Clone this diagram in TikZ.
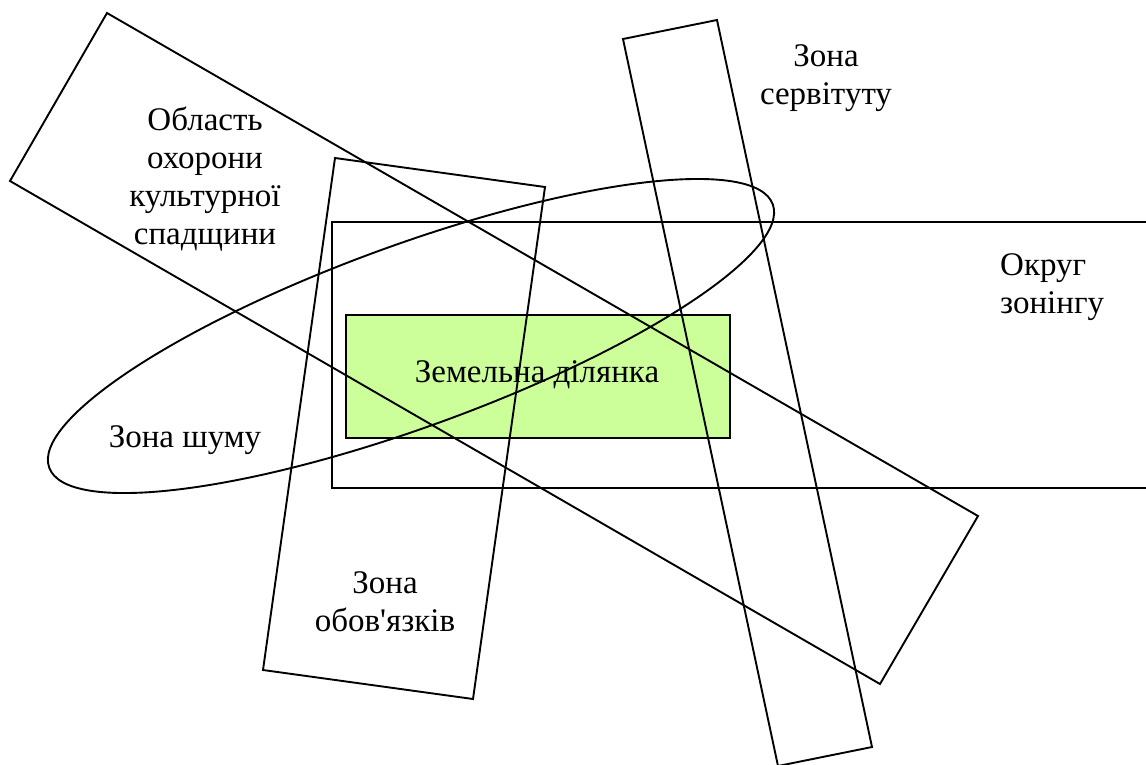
\documentclass[tikz,border=0pt]{standalone}
\usepackage{fontspec}
\setmainfont{Liberation Serif}[Ligatures=TeXOff]
\begin{document}
\begin{tikzpicture}[x=1pt,y=-1pt,
  outline/.style={draw=black,line width=1.9pt,line join=miter},
  lbl/.style={inner sep=0pt,font=\fontsize{33}{38}\selectfont}]
\clip (0,0) rectangle (1146,764);
\fill[white] (0,0) rectangle (1146,764);
% land parcel
\draw[fill={rgb,255:red,204;green,255;blue,153},draw=black,line width=1.3pt] (346,315) rectangle (730,438);
% zoning district
\draw[outline] (1160,222) -- (332,222) -- (332,488) -- (1160,488);
% cultural heritage area
\draw[outline] (107,13) -- (978,516) -- (880,684) -- (10,181) -- cycle;
% obligations zone
\draw[outline] (335,158) -- (545,187) -- (473,699) -- (263,670) -- cycle;
% servitude zone
\draw[outline] (623,39) -- (717,20) -- (872,747) -- (778,766) -- cycle;
% noise zone
\draw[outline,rotate around={20:(411,336)}] (411,336) ellipse [x radius=385pt, y radius=91pt];
% labels
\node[lbl,anchor=base] (obl) at (205,130) {\begin{tabular}[t]{@{}c@{}}Область\\охорони\\культурної\\спадщини\end{tabular}};
\node[lbl,anchor=base] (serv) at (826,66) {\begin{tabular}[t]{@{}c@{}}Зона\\сервітуту\end{tabular}};
\node[lbl,anchor=base west] (okr) at (1000,275) {\begin{tabular}[t]{@{}l@{}}Округ\\зонінгу\end{tabular}};
\node[lbl,anchor=base] (obov) at (385,593) {\begin{tabular}[t]{@{}c@{}}Зона\\обов'язків\end{tabular}};
\node[lbl,anchor=base] (shum) at (185,447) {Зона шуму};
\node[lbl,anchor=base] (zem) at (537,382) {Земельна ділянка};
\end{tikzpicture}
\end{document}
